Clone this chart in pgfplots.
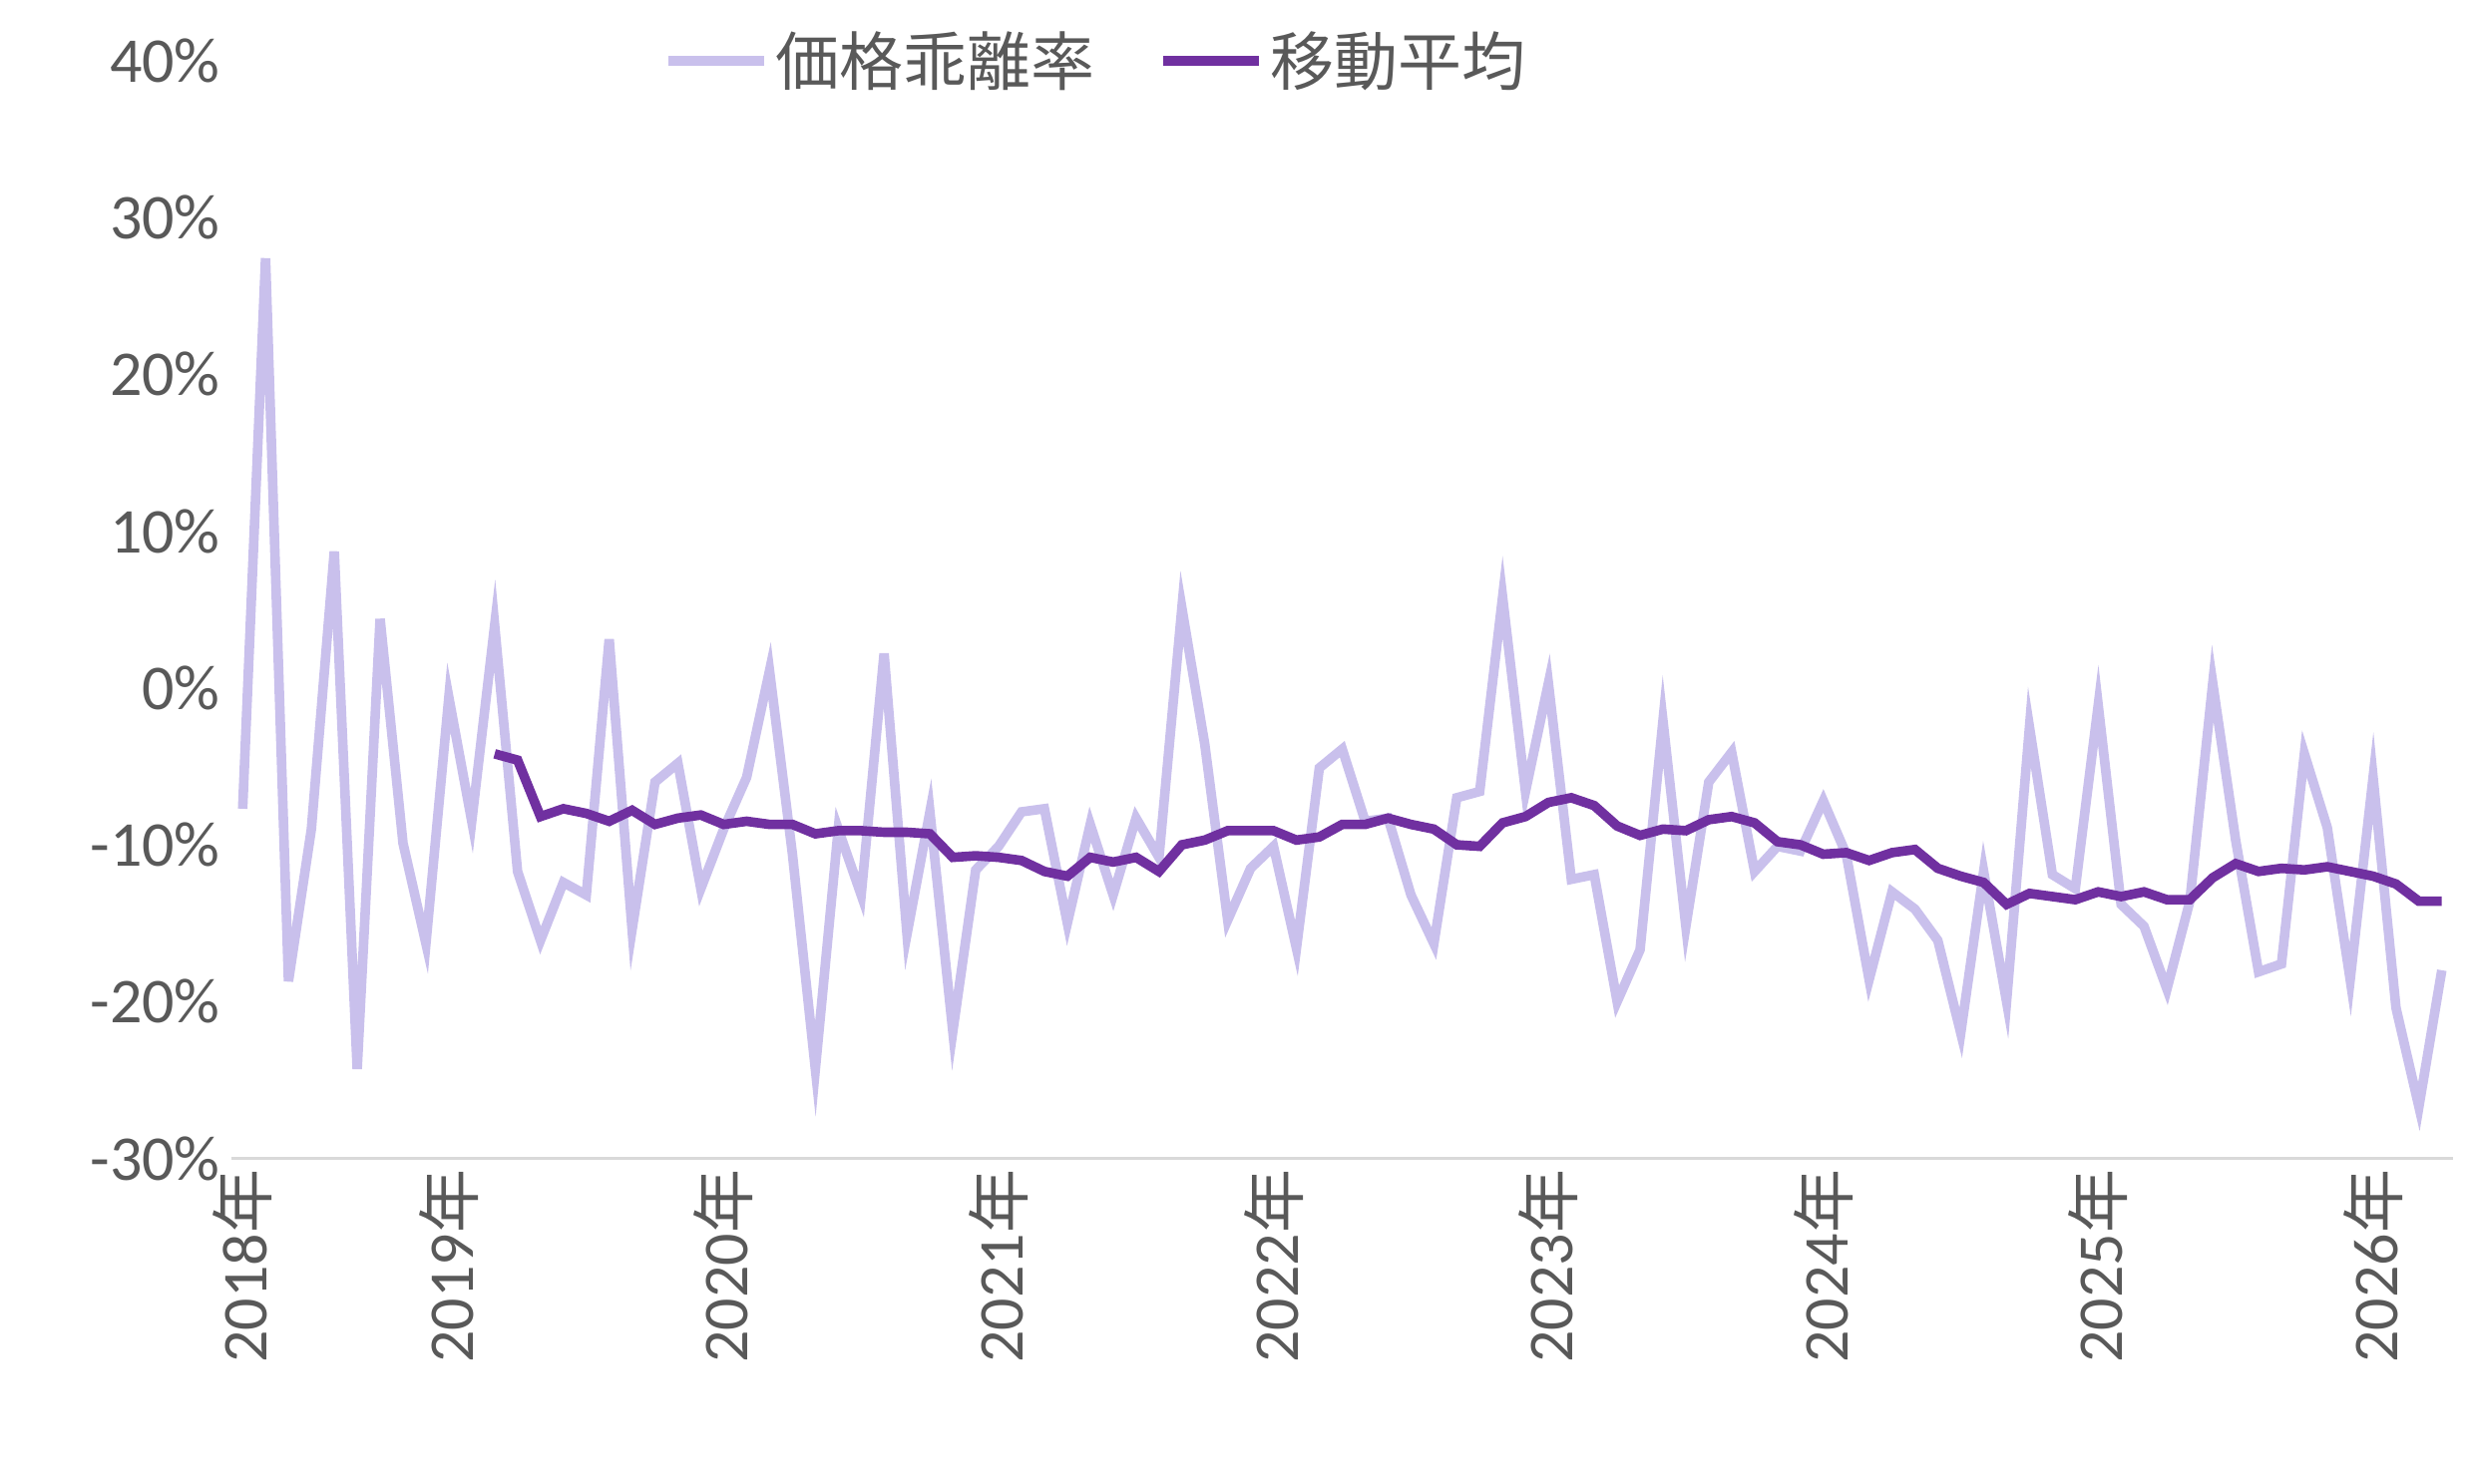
\documentclass[border=0pt]{standalone}
\usepackage{pgfplots}
\pgfplotsset{compat=1.18}
\usepackage{fontspec}
\setmainfont{Carlito}
\newfontfamily\jp{Noto Sans CJK JP}
\definecolor{light}{HTML}{C9C0EC}
\definecolor{dark}{HTML}{7030A0}
\definecolor{txt}{HTML}{595959}
\begin{document}
\begin{tikzpicture}
\begin{axis}[name=ax, scale only axis, width=696pt, height=344pt,
  xmin=-0.49, xmax=96.5, ymin=-30, ymax=40,
  axis y line*=left, axis x line*=bottom,
  y axis line style={draw=none},
  x axis line style={draw=black!15, line width=1pt},
  xtick={0,9,21,33,45,57,69,81,93},
  xticklabels={2018{\jp 年},2019{\jp 年},2020{\jp 年},2021{\jp 年},2022{\jp 年},2023{\jp 年},2024{\jp 年},2025{\jp 年},2026{\jp 年}},
  xticklabel style={rotate=90, anchor=east, font=\fontsize{20}{24}\selectfont, text=txt},
  major tick length=0pt,
  ytick={-30,-20,-10,0,10,20,30,40},
  yticklabels={-30\%,-20\%,-10\%,0\%,10\%,20\%,30\%,40\%},
  yticklabel style={font=\fontsize{20}{24}\selectfont, text=txt},
  legend style={draw=none, fill=none, at={(0.39,1.0)}, anchor=center, legend columns=2,
    font=\jp\fontsize{20}{24}\selectfont, text=txt, /tikz/every even column/.append style={column sep=18pt}},
  legend image code/.code={\draw[#1, line width=3pt] (0pt,0pt) -- (30pt,0pt);},
]
\addplot[light, line width=3pt] coordinates {
(0,-7.7)(1,27.4)(2,-18.7)(3,-9)(4,8.7)(5,-24.3)(6,4.4)(7,-9.9)(8,-16.3)(9,-0.6)
(10,-8.5)(11,4.0)(12,-11.7)(13,-16.1)(14,-12.4)(15,-13.2)(16,3.1)(17,-15.4)(18,-6.0)(19,-4.8)
(20,-12.8)(21,-9)(22,-5.7)(23,1.1)(24,-10.6)(25,-24.3)(26,-9)(27,-13.2)(28,2.2)(29,-15.7)
(30,-7.9)(31,-21.9)(32,-11.6)(33,-10.1)(34,-7.9)(35,-7.7)(36,-15)(37,-8.7)(38,-13.2)(39,-8.3)
(40,-10.8)(41,5.1)(42,-3.6)(43,-14.8)(44,-11.5)(45,-10.1)(46,-16.6)(47,-5.1)(48,-3.9)(49,-8.5)
(50,-8.3)(51,-13.2)(52,-16.3)(53,-7)(54,-6.6)(55,5.8)(56,-6.6)(57,0.3)(58,-12.2)(59,-11.9)
(60,-20)(61,-16.7)(62,-2.1)(63,-15.2)(64,-6)(65,-4.1)(66,-11.7)(67,-10.1)(68,-10.4)(69,-7.2)
(70,-10.6)(71,-18.6)(72,-13)(73,-14.1)(74,-16.1)(75,-22)(76,-11.7)(77,-20)(78,-2.5)(79,-11.9)
(80,-12.8)(81,-1.1)(82,-13.8)(83,-15.2)(84,-19.2)(85,-13.6)(86,0.3)(87,-9.7)(88,-18.1)(89,-17.6)
(90,-4.2)(91,-8.9)(92,-18.6)(93,-5.7)(94,-20.4)(95,-26.7)(96,-18)};
\addlegendentry{価格乖離率}
\addplot[dark, line width=3pt] coordinates {
(11,-4.2)(12,-4.6)(13,-8.2)(14,-7.7)(15,-8.0)(16,-8.5)(17,-7.8)(18,-8.7)(19,-8.3)
(20,-8.1)(21,-8.7)(22,-8.5)(23,-8.7)(24,-8.7)(25,-9.3)(26,-9.1)(27,-9.1)(28,-9.2)(29,-9.2)
(30,-9.3)(31,-10.8)(32,-10.7)(33,-10.8)(34,-11.0)(35,-11.7)(36,-12.0)(37,-10.8)(38,-11.1)(39,-10.8)
(40,-11.7)(41,-10.0)(42,-9.7)(43,-9.1)(44,-9.1)(45,-9.1)(46,-9.7)(47,-9.5)(48,-8.7)(49,-8.7)
(50,-8.3)(51,-8.7)(52,-9.0)(53,-10.0)(54,-10.1)(55,-8.6)(56,-8.2)(57,-7.3)(58,-7.0)(59,-7.5)
(60,-8.8)(61,-9.4)(62,-9.0)(63,-9.1)(64,-8.4)(65,-8.2)(66,-8.6)(67,-9.8)(68,-10.0)(69,-10.6)
(70,-10.5)(71,-11.0)(72,-10.5)(73,-10.3)(74,-11.5)(75,-12.0)(76,-12.4)(77,-13.8)(78,-13.1)(79,-13.3)
(80,-13.5)(81,-13.0)(82,-13.3)(83,-13.0)(84,-13.5)(85,-13.5)(86,-12.1)(87,-11.2)(88,-11.7)(89,-11.5)
(90,-11.6)(91,-11.4)(92,-11.7)(93,-12.0)(94,-12.5)(95,-13.6)(96,-13.6)};
\addlegendentry{移動平均}
\end{axis}
\path ([shift={(-72.5pt,-102pt)}]ax.south west) rectangle ([shift={(6.5pt,19pt)}]ax.north east);
\end{tikzpicture}
\end{document}
